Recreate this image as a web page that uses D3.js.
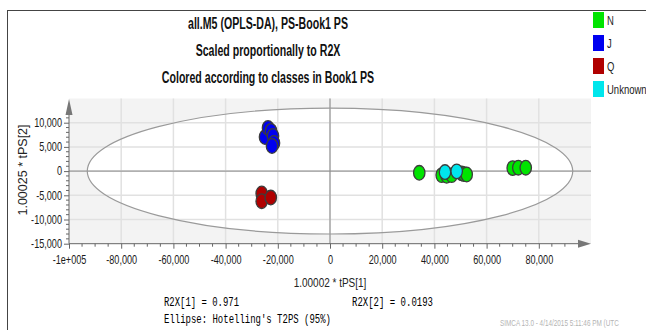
<!DOCTYPE html>
<html lang="en">
<head>
<meta charset="UTF-8">
<title>all.M5 (OPLS-DA) score plot</title>
<script src="https://cdn.jsdelivr.net/npm/d3@7"></script>
<style>
    body { margin: 0; background: #fff; }
    text { font-family: "Liberation Sans", Arial, sans-serif; }
</style>
</head>
<body>
<div id="myDiv"></div>
<script>

    // Classes and scores
    const classNames = ["N", "J", "Q", "Unknown"];
    const classColors = ["#00e400", "#0000f0", "#b00000", "#00e6ec"];

    const nX = [34200, 42800, 44700, 46600, 50460, 51340, 52370, 70000, 72150, 75000];
    const nY = [-350, -830, -970, -830, -480, -620, -700, 620, 700, 700];
    const jX = [-24900, -23750, -22600, -21840, -21460, -22220];
    const jY = [7050, 8920, 8300, 7260, 5810, 5190];
    const qX = [-26170, -26170, -22700];
    const qY = [-4630, -6220, -5460];
    const uX = [44060, 48540];
    const uY = [-200, -50];

    const xTicks = [-100000, -80000, -60000, -40000, -20000, 0, 20000, 40000, 60000, 80000];
    const yTicks = [-15000, -10000, -5000, 0, 5000, 10000];
    const titleLines = ["all.M5 (OPLS-DA), PS-Book1 PS", "Scaled proportionally to R2X", "Colored according to classes in Book1 PS"];

    const W = 646, H = 330;
    const svg = d3.select("#myDiv").append("svg").attr("width", W).attr("height", H);

    // the picture is horizontally squeezed, text too
    function squeeze(sel, s) {
        sel.each(function() {
            const t = d3.select(this);
            const tx = +t.attr("x") || 0, ty = +t.attr("y") || 0;
            t.attr("x", 0).attr("y", 0)
                .attr("transform", "translate(" + tx + "," + ty + ") scale(" + s + ",1)");
        });
    }
    function fmt(d) {
        if (d === -100000) return "-1e+005";
        return d3.format(",")(d).replace("\u2212", "-");
    }

    const x = d3.scaleLinear().domain([-100000, 100000]).range([69, 591]);
    const y = d3.scaleLinear().domain([-15000, 15000]).range([243.7, 98.5]);

    // frame
    svg.append("line").attr("x1", 7).attr("x2", W).attr("y1", 10.5).attr("y2", 10.5).attr("stroke", "#444");
    svg.append("line").attr("x1", 7.5).attr("x2", 7.5).attr("y1", 10).attr("y2", H).attr("stroke", "#444");

    // titles
    const titles = svg.selectAll(".title").data(titleLines).enter().append("text")
        .attr("x", 268)
        .attr("y", function(d, i) { return 29 + i * 27; })
        .attr("text-anchor", "middle")
        .attr("font-size", 17).attr("font-weight", "bold").attr("fill", "#111")
        .text(function(d) { return d; });
    const firstW = titles.node().getComputedTextLength();
    squeeze(titles, 160 / firstW);

    // legend
    const leg = svg.append("g");
    leg.selectAll("rect").data(classNames).enter().append("rect")
        .attr("x", 593).attr("y", function(d, i) { return 12 + i * 23; })
        .attr("width", 11).attr("height", 16)
        .attr("fill", function(d, i) { return classColors[i]; });
    const legText = leg.selectAll("text").data(classNames).enter().append("text")
        .attr("x", 607).attr("y", function(d, i) { return 25 + i * 23; })
        .attr("font-size", 12.5).attr("fill", "#222")
        .text(function(d) { return d; });
    squeeze(legText, 0.76);

    // plot background and ellipse
    svg.append("rect").attr("x", x(-100000)).attr("y", y(15000))
        .attr("width", x(100000) - x(-100000)).attr("height", y(-15000) - y(15000))
        .attr("fill", "#f3f3f3");
    svg.append("ellipse").attr("cx", x(0)).attr("cy", y(0))
        .attr("rx", x(93000) - x(0)).attr("ry", y(0) - y(13000))
        .attr("fill", "#fff");

    // grid
    const g = svg.append("g");
    g.selectAll(".gx").data(xTicks.slice(1)).enter().append("line")
        .attr("x1", function(d) { return x(d); }).attr("x2", function(d) { return x(d); })
        .attr("y1", y(15000)).attr("y2", y(-15000))
        .attr("stroke", "#e1e1e1").attr("stroke-width", 1.5);
    g.selectAll(".gy").data(yTicks.slice(1)).enter().append("line")
        .attr("x1", x(-100000)).attr("x2", x(100000))
        .attr("y1", function(d) { return y(d); }).attr("y2", function(d) { return y(d); })
        .attr("stroke", "#e1e1e1").attr("stroke-width", 1.5);

    // zero lines
    svg.append("line").attr("x1", x(-100000)).attr("x2", x(100000)).attr("y1", y(0)).attr("y2", y(0))
        .attr("stroke", "#8a8a8a");
    svg.append("line").attr("x1", x(0)).attr("x2", x(0)).attr("y1", y(15000)).attr("y2", y(-15000))
        .attr("stroke", "#8a8a8a");

    // ellipse outline
    svg.append("ellipse").attr("cx", x(0)).attr("cy", y(0))
        .attr("rx", x(93000) - x(0)).attr("ry", y(0) - y(13000))
        .attr("fill", "none").attr("stroke", "#9a9a9a").attr("stroke-width", 1.2);

    // axes
    const xAxis = svg.append("g").attr("transform", "translate(0," + y(-15000) + ")")
        .call(d3.axisBottom(x).tickValues(xTicks).tickSize(5).tickPadding(7).tickFormat(fmt));
    xAxis.append("g").selectAll("line").data(d3.range(-95000, 91000, 5000).filter(function(d) { return d % 20000 !== 0; }))
        .enter().append("line")
        .attr("x1", function(d) { return x(d); }).attr("x2", function(d) { return x(d); })
        .attr("y1", 0).attr("y2", 3).attr("stroke", "#666");

    const yAxis = svg.append("g").attr("transform", "translate(" + x(-100000) + ",0)")
        .call(d3.axisLeft(y).tickValues(yTicks).tickSize(5).tickPadding(2).tickFormat(fmt));
    yAxis.append("g").selectAll("line").data(d3.range(-14000, 13000, 1000).filter(function(d) { return d % 5000 !== 0; }))
        .enter().append("line")
        .attr("x1", 0).attr("x2", -3)
        .attr("y1", function(d) { return y(d); }).attr("y2", function(d) { return y(d); })
        .attr("stroke", "#666");

    [xAxis, yAxis].forEach(function(a) {
        a.select(".domain").remove();
        a.selectAll(".tick line").attr("stroke", "#666");
        a.selectAll(".tick text").attr("font-size", 12).attr("fill", "#1a1a1a")
            .style("font-family", '"Liberation Sans", Arial, sans-serif');
        squeeze(a.selectAll(".tick text"), 0.76);
    });

    // axis lines with arrows
    svg.append("line").attr("x1", x(-100000)).attr("x2", 580).attr("y1", y(-15000)).attr("y2", y(-15000))
        .attr("stroke", "#666");
    svg.append("path").attr("d", "M578,239.7L591,243.7L578,247.7Z").attr("fill", "#777");
    svg.append("line").attr("x1", x(-100000)).attr("x2", x(-100000)).attr("y1", y(-15000)).attr("y2", 112)
        .attr("stroke", "#666");
    svg.append("path").attr("d", "M69,99L65.5,115L72.5,115Z").attr("fill", "#777");

    // axis titles
    const xTitle = svg.append("text").attr("x", 330).attr("y", 287).attr("text-anchor", "middle")
        .attr("font-size", 12.5).attr("fill", "#222").text("1.00002 * tPS[1]");
    squeeze(xTitle, 0.8);
    svg.append("text").attr("transform", "translate(27,170) rotate(-90)").attr("text-anchor", "middle")
        .attr("font-size", 12.5).attr("fill", "#222").text("1.00025 * tPS[2]");

    // points
    const groups = [[nX, nY, 0], [jX, jY, 1], [qX, qY, 2], [uX, uY, 3]];
    groups.forEach(function(grp) {
        const pts = grp[0].map(function(v, i) { return [v, grp[1][i]]; });
        svg.append("g").selectAll("ellipse").data(pts).enter().append("ellipse")
            .attr("cx", function(d) { return x(d[0]); })
            .attr("cy", function(d) { return y(d[1]); })
            .attr("rx", 5.7).attr("ry", 7.3)
            .attr("fill", classColors[grp[2]])
            .attr("stroke", "#3c3c3c").attr("stroke-width", 1.3);
    });

    // stats footer
    const mono = '"Liberation Mono", "DejaVu Sans Mono", monospace';
    svg.append("text").attr("x", 164).attr("y", 306).attr("font-size", 12.5).style("font-family", mono)
        .attr("textLength", 75).attr("lengthAdjust", "spacingAndGlyphs").text("R2X[1] = 0.971");
    svg.append("text").attr("x", 352).attr("y", 306).attr("font-size", 12.5).style("font-family", mono)
        .attr("textLength", 81).attr("lengthAdjust", "spacingAndGlyphs").text("R2X[2] = 0.0193");
    svg.append("text").attr("x", 164).attr("y", 323).attr("font-size", 12.5).style("font-family", mono)
        .attr("textLength", 167).attr("lengthAdjust", "spacingAndGlyphs").text("Ellipse: Hotelling's T2PS (95%)");
    const stamp = svg.append("text").attr("x", 500).attr("y", 326).attr("font-size", 8.5).attr("fill", "#b4b4b4")
        .text("SIMCA 13.0 - 4/14/2015 5:11:46 PM (UTC");
    squeeze(stamp, 0.75);
</script>
</body>
</html>
